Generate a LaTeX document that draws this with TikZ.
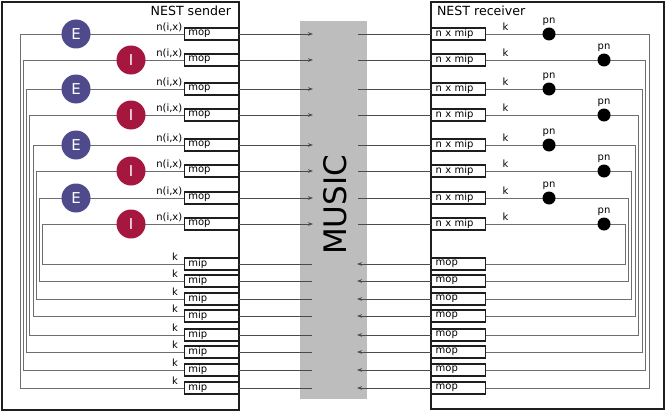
\documentclass[tikz,border=0pt]{standalone}
\usepackage{fontspec}
\setmainfont{DejaVu Sans}
\usetikzlibrary{arrows.meta}
\definecolor{ink}{HTML}{1E1E1E}
\definecolor{rail}{HTML}{6E6E6E}
\definecolor{link}{HTML}{4A4A4A}
\definecolor{excit}{HTML}{4F4A8B}
\definecolor{inhib}{HTML}{A5173F}
\definecolor{musicfill}{HTML}{BDBDBD}
\tikzset{
  frame/.style={
    draw=ink,
    line width=1.2pt
  },
  port/.style={
    draw=ink,
    fill=white,
    line width=1.3pt,
    minimum height=12pt,
    text width=46pt,
    inner xsep=4pt,
    inner ysep=0pt,
    align=left,
    font=\fontsize{10}{11}\selectfont
  },
  neuron/.style={
    circle,
    minimum size=29pt,
    inner sep=0pt,
    text=white,
    font=\fontsize{15}{15}\selectfont
  },
  spike/.style={
    circle,
    fill=black,
    minimum size=13pt,
    inner sep=0pt
  },
  wire/.style={
    draw=rail,
    line width=0.95pt
  },
  flow/.style={
    -{Stealth[length=5pt,width=3.6pt]},
    draw=link,
    line width=0.9pt
  },
  nolink/.style={
    draw=link,
    line width=0.9pt
  },
  tag/.style={
    inner sep=0pt,
    font=\fontsize{10}{10}\selectfont
  }
}
\def\toprows{34,60,89,115,145,171,198,224}
\def\botrows{264,281,299,316,335,352,370,388}

\begin{document}
\begin{tikzpicture}[x=1pt,y=-1pt]
  \useasboundingbox (0,0) rectangle (668,412);

  % the two NEST processes and MUSIC in between
  \draw[frame] (2,2) rectangle (239,410);
  \draw[frame] (431,2) rectangle (664,409);
  \fill[musicfill] (300,21) rectangle (367,399);
  \node[rotate=90,font=\fontsize{31}{31}\selectfont] (music) at (335.5,205) {MUSIC};

  \node[anchor=base east,font=\fontsize{12.6}{13}\selectfont] (send-title) at (234.5,15.5) {NEST sender};
  \node[anchor=base west,font=\fontsize{12.6}{13}\selectfont] (recv-title) at (433.5,15.5) {NEST receiver};

  % ports, top half
  \foreach \y [count=\i] in \toprows {
    \node[port,anchor=east] (send-mop-\i) at (239,\y) {mop};
    \node[port,anchor=west] (recv-in-\i) at (431,\y) {n x mip};
    \node[tag,anchor=base east] (send-n-\i) at (182.5,\y-3.5) {n(i,x)};
    \node[tag,anchor=base west] (recv-k-\i) at (502.5,\y-3.5) {k};
    \coordinate (music-in-\i) at (313,\y);
    \coordinate (music-out-\i) at (358,\y);
  }

  % ports, bottom half
  \foreach \y [count=\i] in \botrows {
    \node[port,anchor=east] (send-mip-\i) at (239,\y) {mip};
    \node[port,anchor=west] (recv-mop-\i) at (431,\y) {mop};
    \node[tag,anchor=base east] (send-k-\i) at (178,\y-3.5) {k};
    \coordinate (music-back-\i) at (312,\y);
    \coordinate (music-ret-\i) at (357,\y);
  }

  % links through MUSIC
  \foreach \i in {1,...,8} {
    \draw[flow] (send-mop-\i.east) -- (music-in-\i);
    \draw[nolink] (music-out-\i) -- (recv-in-\i.west);
    \draw[nolink] (music-back-\i) -- (send-mip-\i.east);
    \draw[flow] (recv-mop-\i.west) -- (music-ret-\i);
  }

  % nested loop-back wires
  \foreach \i in {1,...,8} {
    \pgfmathtruncatemacro\j{9-\i}
    \pgfmathsetmacro\xl{20+3.25*(\i-1)}
    \pgfmathsetmacro\xr{649-3.43*(\i-1)}
    \coordinate (send-rail-\i) at (\xl,0);
    \coordinate (recv-rail-\i) at (\xr,0);
    \draw[wire] (send-mop-\i.west) -| (send-rail-\i |- send-mip-\j.west) -- (send-mip-\j.west);
    \draw[wire] (recv-in-\i.east) -| (recv-rail-\i |- recv-mop-\j.east) -- (recv-mop-\j.east);
  }

  % neurons and spike detectors
  \foreach \y [count=\i] in \toprows {
    \ifodd\i
      \node[neuron,fill=excit] (send-pop-\i) at (76,\y) {E};
      \node[spike] (recv-pn-\i) at (549,\y) {};
    \else
      \node[neuron,fill=inhib] (send-pop-\i) at (131,\y) {I};
      \node[spike] (recv-pn-\i) at (604,\y) {};
    \fi
    \node[tag,anchor=base] (recv-pn-tag-\i) at ([yshift=10.5pt]recv-pn-\i.center) {pn};
  }
\end{tikzpicture}
\end{document}
